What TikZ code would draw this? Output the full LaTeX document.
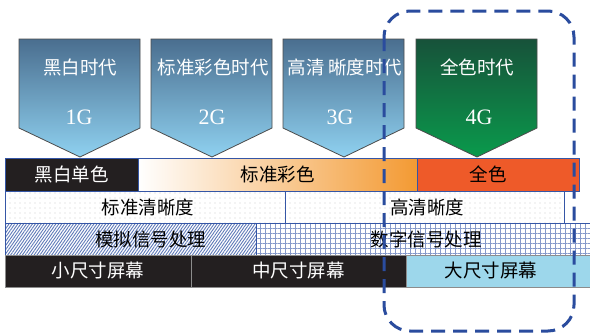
\documentclass[tikz,border=0pt]{standalone}
\usepackage{fontspec}
\setmainfont{Liberation Serif}
\newfontfamily\cjk{Noto Sans CJK SC}
\usetikzlibrary{patterns,patterns.meta}
\definecolor{arrTop}{HTML}{4A6E8F}
\definecolor{arrBot}{HTML}{8FD1F0}
\definecolor{grnTop}{HTML}{17523A}
\definecolor{grnBot}{HTML}{0A9A4C}
\definecolor{blk}{HTML}{231F20}
\definecolor{orng}{HTML}{F39A33}
\definecolor{fullc}{HTML}{EE5A29}
\definecolor{ltblue}{HTML}{9DD7EB}
\definecolor{edge}{HTML}{3556A6}
\definecolor{dashc}{HTML}{2A4C9E}
\tikzset{
  eraarrow/.style={draw=black!70, line width=0.8pt},
  eratext/.style={text=white, font=\cjk\fontsize{18.5}{20}\selectfont, inner sep=0pt},
  gentext/.style={text=white, font=\fontsize{22}{24}\selectfont, inner sep=0pt},
  cell/.style={draw=edge, line width=0.8pt, inner sep=0pt, font=\cjk\fontsize{18.5}{20}\selectfont},
  scell/.style={draw=black!45, line width=0.8pt, inner sep=0pt, font=\cjk\fontsize{18.5}{20}\selectfont},
  lbl/.style={inner sep=0pt, font=\cjk\fontsize{18.5}{20}\selectfont},
  focus/.style={draw=dashc, line width=3pt, dash pattern=on 14pt off 8pt, rounded corners=26pt}
}
\begin{document}
\begin{tikzpicture}[x=1pt,y=-1pt]
\useasboundingbox (0,0) rectangle (590,333);
\fill[white] (0,0) rectangle (590,333);
% era arrows
\shade[eraarrow, top color=arrTop, bottom color=arrBot] (19,39) -- (140,39) -- (140,128) -- (80,157) -- (19,128) -- cycle;
\shade[eraarrow, top color=arrTop, bottom color=arrBot] (151,39) -- (272,39) -- (272,128) -- (212,157) -- (151,128) -- cycle;
\shade[eraarrow, top color=arrTop, bottom color=arrBot] (283,39) -- (404,39) -- (404,128) -- (344,157) -- (283,128) -- cycle;
\shade[eraarrow, top color=grnTop, bottom color=grnBot] (416,39) -- (537,39) -- (537,128) -- (477,157) -- (416,128) -- cycle;
\node[eratext] (e1) at (80,67) {黑白时代};
\node[eratext] (e2) at (213,67) {标准彩色时代};
\node[eratext] (e3) at (345,67) {高清\,晰度时代};
\node[eratext] (e4) at (477,67) {全色时代};
\node[gentext] (g1) at (79,117) {1G};
\node[gentext] (g2) at (212,117) {2G};
\node[gentext] (g3) at (340,117) {3G};
\node[gentext] (g4) at (479,117) {4G};
% row 1
\node[cell, fill=blk, text=white, minimum width=133pt, minimum height=33pt] (bw) at (71.5,174.5) {黑白单色};
\node[cell, left color=white, middle color=orng!38!white, right color=orng, minimum width=279pt, minimum height=33pt] (std) at (277.5,174.5) {标准彩色};
\node[cell, fill=fullc, minimum width=162pt, minimum height=33pt] (full) at (498,174.5) {};
\node[lbl] (fullt) at (488,174.5) {全色};
% row 2
\node[cell, pattern={Dots[distance=5pt, radius=0.45pt]}, pattern color=black!55, minimum width=280pt, minimum height=32pt] (sd) at (145,207) {};
\node[lbl] (sdt) at (148,207) {标准清晰度};
\node[cell, pattern={Dots[distance=5pt, radius=0.45pt]}, pattern color=black!55, minimum width=279pt, minimum height=32pt] (hd) at (424.5,207) {};
\node[lbl] (hdt) at (427,207) {高清晰度};
% row 3
\node[cell, pattern={Lines[angle=55, distance=2.4pt, line width=0.9pt]}, pattern color=edge!80, minimum width=251pt, minimum height=32pt] (ana) at (130.5,239) {};
\node[lbl] (anat) at (151,239) {模拟信号处理};
\node[cell, pattern={Hatch[angle=0, distance=5pt, line width=0.5pt]}, pattern color=edge!60, minimum width=334pt, minimum height=32pt] (dig) at (423,239) {};
\node[lbl] (digt) at (426,239) {数字信号处理};
% row 4
\node[scell, fill=blk, text=white, minimum width=186pt, minimum height=32pt] (small) at (98,271) {小尺寸屏幕};
\node[scell, fill=blk, text=white, minimum width=215pt, minimum height=32pt] (mid) at (298.5,271) {中尺寸屏幕};
\node[scell, fill=ltblue, minimum width=184pt, minimum height=32pt] (large) at (498,271) {};
\node[lbl] (larget) at (491,271) {大尺寸屏幕};
% focus frame
\draw[focus] (384,11) rectangle (574,331);
\end{tikzpicture}
\end{document}
